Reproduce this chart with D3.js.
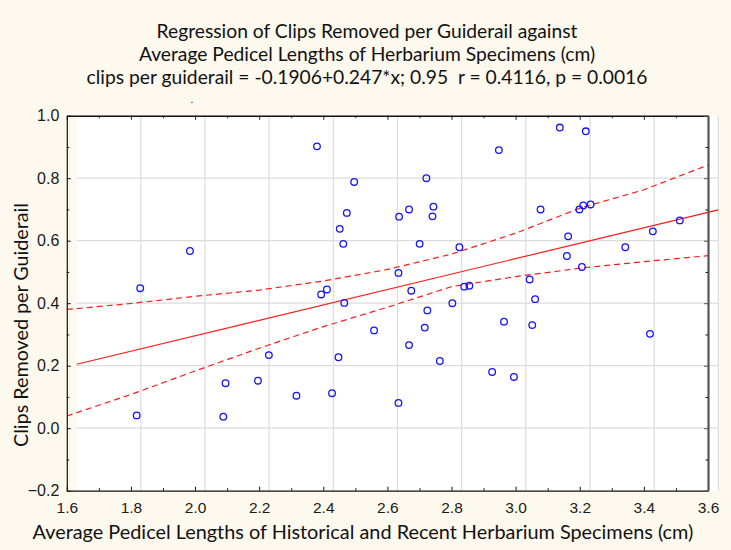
<!DOCTYPE html>
<html>
<head>
<meta charset="utf-8">
<script src="https://d3js.org/d3.v7.min.js"></script>
<style>
  body { margin: 0; background: #fef9ee; }
  svg { display: block; }
  .tick text { font-family: "Liberation Sans", Arial, sans-serif; fill: #1a1a1a; }
  .ttl { font-family: Lato, "Open Sans", sans-serif; fill: #111; white-space: pre; }
</style>
</head>
<body>
<script>
// values
const xTicks = [1.6, 1.8, 2.0, 2.2, 2.4, 2.6, 2.8, 3.0, 3.2, 3.4, 3.6];
const yTicks = [-0.2, 0.0, 0.2, 0.4, 0.6, 0.8, 1.0];

const pointX = [2.349, 2.465, 2.442, 2.420, 2.431, 1.953, 1.798, 2.605, 2.603, 2.362,
  2.380, 3.106, 3.187, 2.916, 2.690, 2.636, 2.712, 2.709, 3.046, 3.167,
  3.179, 3.202, 3.480, 3.396, 3.310, 3.132, 2.669, 2.793, 3.128, 3.175,
  3.012, 2.643, 2.808, 2.824, 3.029, 2.771, 2.693, 2.932, 3.020, 2.685,
  2.636, 2.732, 2.895, 2.963, 3.387, 2.603, 2.434, 2.527, 2.199, 2.416,
  2.064, 2.165, 2.285, 2.396, 1.787, 2.057];
const pointY = [0.902, 0.788, 0.689, 0.638, 0.590, 0.567, 0.448, 0.677, 0.497, 0.428,
  0.444, 0.962, 0.950, 0.890, 0.800, 0.700, 0.709, 0.678, 0.700, 0.700,
  0.713, 0.716, 0.665, 0.630, 0.579, 0.614, 0.590, 0.579, 0.551, 0.516,
  0.476, 0.440, 0.453, 0.456, 0.413, 0.400, 0.377, 0.341, 0.330, 0.322,
  0.266, 0.215, 0.180, 0.164, 0.302, 0.081, 0.401, 0.313, 0.234, 0.227,
  0.144, 0.152, 0.104, 0.112, 0.041, 0.037];

// fitted line: clips = -0.1906 + 0.247*x, end values
const fitX = [1.6, 3.6];
const fitY = [0.2046, 0.6986];

// 95% band, read at each x tick
const bandUpper = [0.380, 0.399, 0.422, 0.442, 0.471, 0.508, 0.557, 0.624, 0.704, 0.763, 0.842];
const bandLower = [0.039, 0.108, 0.183, 0.256, 0.325, 0.387, 0.453, 0.485, 0.512, 0.533, 0.552];

const titleLines = [
  "Regression of Clips Removed per Guiderail against",
  "Average Pedicel Lengths of Herbarium Specimens (cm)",
  "clips per guiderail = -0.1906+0.247*x; 0.95  r = 0.4116, p = 0.0016"
];

const W = 731, H = 550;
const svg = d3.select("body").append("svg").attr("width", W).attr("height", H);

svg.append("rect").attr("width", W).attr("height", H).attr("fill", "#fef9ee");

// frame scale (axes) and plot scale (data area, drawn a few px to the right)
const xAxisScale = d3.scaleLinear().domain([1.6, 3.6]).range([66.8, 708]);
const x = d3.scaleLinear().domain([1.6, 3.6]).range([76.7, 718.3]);
const y = d3.scaleLinear().domain([-0.2, 1.0]).range([490.7, 115.7]);

// white plot area
svg.append("rect")
  .attr("x", x(1.6)).attr("y", y(1.0))
  .attr("width", x(3.6) - x(1.6)).attr("height", y(-0.2) - y(1.0))
  .attr("fill", "#fff");

// grid
svg.append("g").selectAll("line").data(xTicks.slice(1)).join("line")
  .attr("x1", d => x(d)).attr("x2", d => x(d))
  .attr("y1", y(1.0)).attr("y2", y(-0.2))
  .attr("stroke", "#dcdcdc").attr("stroke-width", 1.2);
svg.append("g").selectAll("line").data(yTicks.slice(1, -1)).join("line")
  .attr("x1", x(1.6)).attr("x2", x(3.6))
  .attr("y1", d => y(d)).attr("y2", d => y(d))
  .attr("stroke", "#dcdcdc").attr("stroke-width", 1.2);

// confidence band
const bandLine = d3.line().x((d, i) => xAxisScale(xTicks[i])).y(d => y(d));
[bandUpper, bandLower].forEach(b => {
  svg.append("path").attr("d", bandLine(b))
    .attr("fill", "none").attr("stroke", "#ff1a1a").attr("stroke-width", 1.2)
    .attr("stroke-dasharray", "6,4");
});

// regression line
svg.append("path")
  .attr("d", d3.line().x((d, i) => x(fitX[i])).y(d => y(d))(fitY))
  .attr("fill", "none").attr("stroke", "#ff1a1a").attr("stroke-width", 1.2);

// points
svg.append("g").selectAll("circle").data(pointX).join("circle")
  .attr("cx", d => x(d)).attr("cy", (d, i) => y(pointY[i])).attr("r", 3.3)
  .attr("fill", "none").attr("stroke", "#1414ff").attr("stroke-width", 1.3);

// axes, ticks pointing inside
const minorX = d3.range(1.7, 3.6, 0.2);
const minorY = d3.range(-0.1, 1.0, 0.2);
function styleAxis(g, col, w) {
  g.selectAll("path, line").attr("stroke", col);
  g.select(".domain").attr("stroke-width", w);
}
function minor(axis, pos) {
  svg.append("g").attr("transform", pos)
    .call(axis.tickFormat("").tickSizeInner(-2.5).tickSizeOuter(0))
    .call(g => g.select(".domain").remove())
    .selectAll("line").attr("stroke", "#111");
}

const gBottom = svg.append("g").attr("transform", `translate(0,${y(-0.2)})`)
  .call(d3.axisBottom(xAxisScale).tickValues(xTicks).tickFormat(d3.format(".1f"))
    .tickSizeInner(-4).tickSizeOuter(0).tickPadding(11));
gBottom.selectAll("text").style("font-size", "15.5px");
styleAxis(gBottom, "#111", 1.2);
minor(d3.axisBottom(xAxisScale).tickValues(minorX), `translate(0,${y(-0.2)})`);

const gTop = svg.append("g").attr("transform", `translate(0,${y(1.0)})`)
  .call(d3.axisTop(xAxisScale).tickValues(xTicks).tickFormat("").tickSizeInner(-4).tickSizeOuter(0));
styleAxis(gTop, "#111", 1.6);
minor(d3.axisTop(xAxisScale).tickValues(minorX), `translate(0,${y(1.0)})`);

const gLeft = svg.append("g").attr("transform", `translate(${xAxisScale(1.6)},0)`)
  .call(d3.axisLeft(y).tickValues(yTicks).tickFormat(d3.format(".1f"))
    .tickSizeInner(-4).tickSizeOuter(0).tickPadding(7.5));
gLeft.selectAll("text").style("font-size", "16px");
styleAxis(gLeft, "#111", 1.2);
minor(d3.axisLeft(y).tickValues(minorY), `translate(${xAxisScale(1.6)},0)`);

const gRight = svg.append("g").attr("transform", `translate(${xAxisScale(3.6)},0)`)
  .call(d3.axisRight(y).tickValues(yTicks).tickFormat("").tickSizeInner(-4).tickSizeOuter(0));
styleAxis(gRight, "#555", 2.2);
minor(d3.axisRight(y).tickValues(minorY), `translate(${xAxisScale(3.6)},0)`);

// texts, sized to the widths seen in the reference
function fit(t, width, size) {
  t.style("font-size", size + "px");
  const len = t.node().getComputedTextLength();
  const s = size * width / len;
  t.style("font-size", s.toFixed(2) + "px");
  return s;
}
const titleBase = [38, 61, 84];
const titles = titleLines.map((s, i) => svg.append("text").attr("class", "ttl")
  .attr("x", 367).attr("y", titleBase[i]).attr("text-anchor", "middle").text(s));
const tSize = fit(titles[2], 561, 18);
titles.forEach(t => t.style("font-size", tSize.toFixed(2) + "px"));

svg.append("text").attr("class", "ttl")
  .attr("x", 192).attr("y", 103).attr("text-anchor", "middle")
  .style("font-size", "10px").text(".");

const xt = svg.append("text").attr("class", "ttl")
  .attr("x", 363).attr("y", 539).attr("text-anchor", "middle")
  .text("Average Pedicel Lengths of Historical and Recent Herbarium Specimens (cm)");
fit(xt, 661, 18);

const yt = svg.append("text").attr("class", "ttl")
  .attr("transform", "translate(28,325) rotate(-90)").attr("text-anchor", "middle")
  .text("Clips Removed per Guiderail");
fit(yt, 244, 18);
</script>
</body>
</html>
